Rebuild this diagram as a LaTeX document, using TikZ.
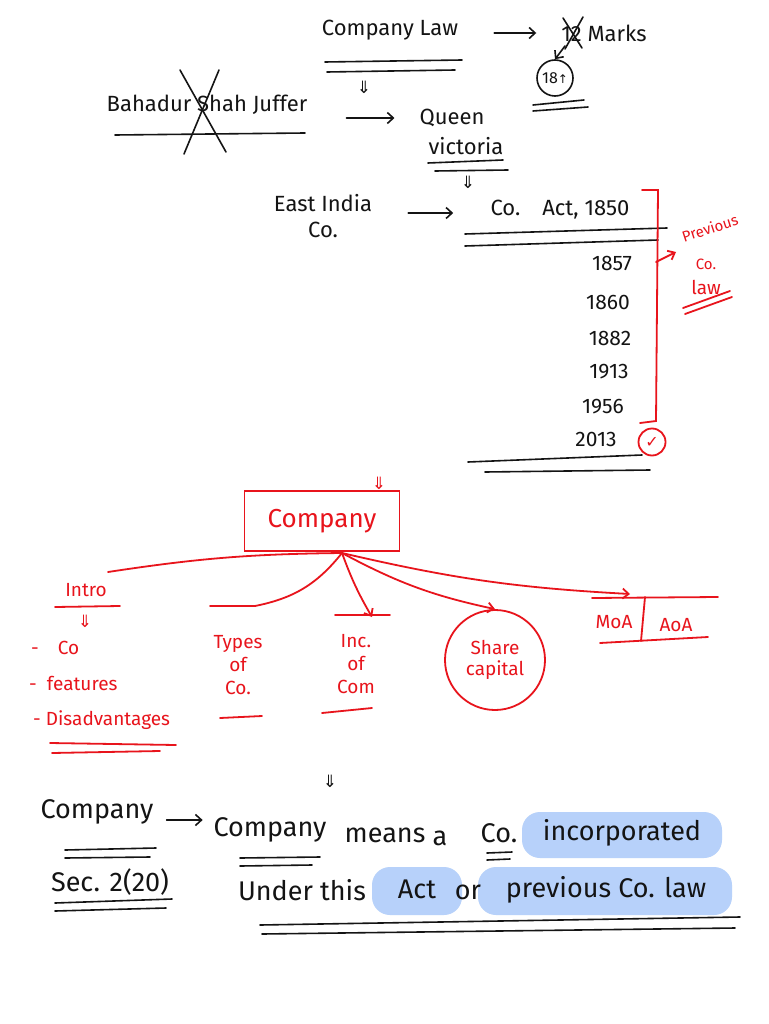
\documentclass[tikz,border=0pt]{standalone}
\usepackage{fontspec}
\setmainfont{Fira Sans}
\newfontfamily\symfont{DejaVu Sans}
\usetikzlibrary{arrows.meta,shapes.geometric}
\definecolor{ink}{HTML}{141414}
\definecolor{pen}{HTML}{E8141C}
\definecolor{hl}{HTML}{B7D1FA}
\tikzset{
  inkline/.style={draw=ink, line width=1.6pt, line cap=round},
  redline/.style={draw=pen, line width=1.8pt, line cap=round},
  txt/.style={font=\fontsize{22}{24}\selectfont, text=ink, inner sep=1pt},
  bigtxt/.style={font=\fontsize{27}{29}\selectfont, text=ink, inner sep=1pt},
  yeartxt/.style={font=\fontsize{21}{23}\selectfont, text=ink, inner sep=1pt},
  rtxt/.style={font=\fontsize{19}{21}\selectfont, text=pen, inner sep=1pt},
  rsmall/.style={font=\fontsize{15}{17}\selectfont, text=pen, inner sep=0pt},
  arr/.style={inkline, -{Straight Barb[length=6pt,width=11pt]}},
  rarr/.style={redline, -{Straight Barb[length=6pt,width=10pt]}},
  dbl/.style={font=\symfont\fontsize{17}{18}\selectfont, text=ink, inner sep=0pt},
  rdbl/.style={font=\symfont\fontsize{17}{18}\selectfont, text=pen, inner sep=0pt},
}
\begin{document}
\begin{tikzpicture}[x=1pt,y=-1pt]
\fill[white] (0,0) rectangle (768,1024);
\useasboundingbox (0,0) rectangle (768,1024);

% ---------- top section ----------
\node[txt] (cl) at (390,30) {Company Law};
\draw[inkline] (325,62) -- (462,60);
\draw[inkline] (327,72) -- (455,70);
\node[dbl] (d1) at (364,87) {⇓};

\node[txt] (marks) at (604,33) {12 Marks};
\draw[arr] (cl.east) ++(35,3) coordinate (a1s) -- ++(42,0) coordinate (a1e);
\draw[inkline] (563,18) -- (582,48);
\draw[inkline] (583,17) -- (565,49);
\node[draw=ink, line width=1.6pt, circle, minimum size=36pt, inner sep=0pt,
      font=\fontsize{16}{17}\selectfont, text=ink] (c18) at (555,78) {18{\symfont\fontsize{12}{12}\selectfont↑}};
\coordinate (m1) at (565,46);
\draw[arr] (m1) -- (c18.north);
\draw[inkline] (533,105) -- (584,100);
\draw[inkline] (533,111) -- (588,107);

\node[txt] (bsj) at (207,105) {Bahadur Shah Juffer};
\draw[inkline] (115,135) -- (305,133);
\draw[inkline] (180,70) -- (226,152);
\draw[inkline] (219,70) -- (184,154);

\node[txt] (qv) at (452,118) {Queen};
\node[txt] (vic) at (466,146) {victoria};
\draw[arr] (bsj.east) ++(38,13) coordinate (a2s) -- ++(48,0) coordinate (a2e);
\draw[inkline] (428,163) -- (503,160);
\draw[inkline] (435,171) -- (508,170);
\node[dbl] (d2) at (468,182) {⇓};

\node[txt] (eic) at (323,203) {East India};
\node[txt] (eco) at (323,230) {Co.};
\node[txt] (act) at (560,210) {Co.\quad Act, 1850};
\draw[arr] (eic.east) ++(35,10) coordinate (a3s) -- ++(45,0) coordinate (a3e);
\draw[inkline] (465,234) -- (667,228);
\draw[inkline] (465,246) -- (658,240);

\node[yeartxt] (y1) at (612,263) {1857};
\node[yeartxt] (y2) at (608,302) {1860};
\node[yeartxt] (y3) at (610,338) {1882};
\node[yeartxt] (y4) at (609,372) {1913};
\node[yeartxt] (y5) at (603,407) {1956};
\node[yeartxt] (y6) at (596,439) {2013};
\draw[inkline] (468,462) -- (642,455);
\draw[inkline] (485,472) -- (650,470);

% red bracket
\draw[redline] (642,190) -- (658,190) -- (656,421) -- (640,423);
\node[rsmall, rotate=18] (prev) at (710,228) {Previous};
\node[rsmall] (pco) at (706,264) {Co.};
\node[rtxt] (plaw) at (706,287) {law};
\coordinate (br) at (656,262);
\draw[rarr] (br) -- (676,252);
\draw[redline] (683,308) -- (730,291);
\draw[redline] (685,314) -- (732,297);
\node[draw=pen, line width=1.8pt, circle, minimum size=27pt, inner sep=0pt,
      font=\symfont\fontsize{16}{16}\selectfont, text=pen] (chk) at (652,442) {✓};

% ---------- red mind map ----------
\node[draw=pen, line width=1.8pt, minimum width=155pt, minimum height=60pt,
      font=\fontsize{26}{28}\selectfont, text=pen] (comp) at (322,521) {Company};
\node[rdbl] (d3) at (379,483) {⇓};
\coordinate (hub) at (342,553);

\node[rtxt] (intro) at (86,590) {Intro};
\draw[redline] (55,607) -- (120,606);
\node[rdbl] (d4) at (85,621) {⇓};
\node[rtxt, anchor=west] (f1) at (30,648) {-\quad Co};
\node[rtxt, anchor=west] (f2) at (28,683) {-\ \ features};
\node[rtxt, anchor=west] (f3) at (32,720) {-\ Disadvantages};
\draw[redline] (50,743) -- (176,745);
\draw[redline] (52,753) -- (160,751);

\node[rtxt, align=center] (types) at (238,665) {Types\\[2pt]of\\[2pt]Co.};
\draw[redline] (210,606) -- (255,606);
\draw[redline] (220,718) -- (262,716);

\node[rtxt, align=center] (inc) at (356,664) {Inc.\\[2pt]of\\[2pt]Com};
\draw[redline] (335,615) -- (390,615);
\draw[redline] (322,713) -- (372,708);

\node[draw=pen, line width=1.8pt, ellipse, minimum width=100pt, minimum height=100pt,
      inner sep=0pt, rtxt, align=center] (share) at (495,660) {Share\\capital};

\node[rtxt] (moa) at (614,622) {MoA};
\node[rtxt] (aoa) at (676,625) {AoA};
\draw[redline] (645,597) -- (641,641);
\draw[redline] (592,598) -- (718,597);
\draw[redline] (600,643) -- (708,637);

\draw[redline] (hub) to[bend right=4] (108,572);
\draw[redline] (hub) to[bend left=20] (255,606);
\draw[rarr] (hub) to[bend right=5] (372,617);
\draw[rarr] (hub) to[bend right=8] (share.north);
\draw[rarr] (hub) to[bend right=5] (630,594);

% ---------- definition ----------
\fill[hl, rounded corners=18pt] (522,812) rectangle (722,858);
\fill[hl, rounded corners=18pt] (372,867) rectangle (462,915);
\fill[hl, rounded corners=18pt] (478,867) rectangle (732,915);

\node[dbl] (d5) at (330,781) {⇓};
\node[bigtxt] (lcomp) at (97,812) {Company};
\draw[inkline] (65,850) -- (156,848);
\draw[inkline] (65,858) -- (150,857);
\node[bigtxt] (sec) at (110,882) {Sec. 2(20)};
\draw[inkline] (55,903) -- (172,899);
\draw[inkline] (55,911) -- (166,908);

\node[bigtxt] (w1) at (270,830) {Company};
\node[bigtxt] (w2) at (385,835) {means};
\node[bigtxt] (w3) at (440,838) {a};
\node[bigtxt] (w4) at (499,833) {Co.};
\node[bigtxt] (w5) at (622,833) {incorporated};
\draw[arr] (lcomp.east) ++(12,8) coordinate (a4s) -- ++(36,0) coordinate (a4e);
\draw[inkline] (240,858) -- (320,857);
\draw[inkline] (240,866) -- (312,865);
\draw[inkline] (487,853) -- (512,852);
\draw[inkline] (487,860) -- (510,859);

\node[bigtxt] (w6) at (302,890) {Under this};
\node[bigtxt] (w7) at (417,889) {Act};
\node[bigtxt] (w8) at (468,892) {or};
\node[bigtxt] (w9) at (606,890) {previous Co. law};
\draw[inkline] (260,925) -- (740,917);
\draw[inkline] (262,934) -- (735,928);
\end{tikzpicture}
\end{document}
